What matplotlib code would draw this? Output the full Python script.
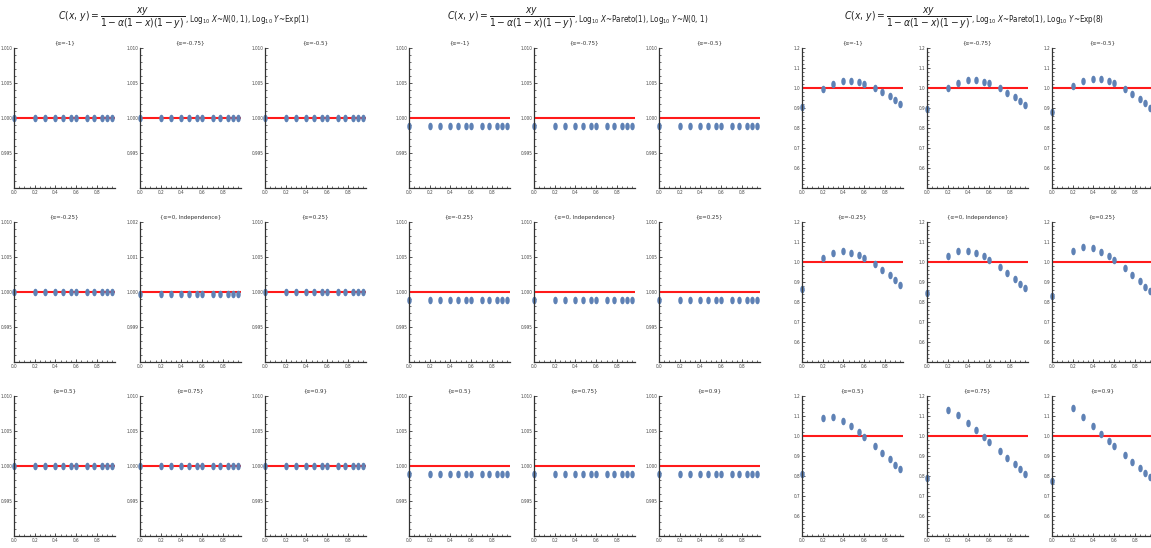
import matplotlib
matplotlib.use('Agg')
import matplotlib.pyplot as plt
from matplotlib import font_manager
from matplotlib.path import Path
from matplotlib.transforms import Affine2D
from matplotlib.ticker import MultipleLocator, FixedLocator, FormatStrFormatter

ttf = font_manager.fontManager.ttflist
names = {f.name for f in ttf}
has_cond = any(f.name == 'DejaVu Sans' and 'Condensed' in f.fname for f in ttf)
if 'Liberation Sans Narrow' in names:
    base, pat = 'Liberation Sans Narrow', 'Liberation Sans Narrow'
    stretch = 'normal'
elif has_cond:
    base, pat = 'DejaVu Sans', 'DejaVu Sans:stretch=condensed'
    stretch = 'condensed'
else:
    base, pat = 'DejaVu Sans', 'DejaVu Sans'
    stretch = 'normal'
plt.rcParams['font.family'] = [base, 'DejaVu Sans']
plt.rcParams['font.stretch'] = stretch
plt.rcParams['mathtext.fontset'] = 'custom'
plt.rcParams['mathtext.rm'] = pat
plt.rcParams['mathtext.it'] = pat + ':italic'
plt.rcParams['mathtext.bf'] = pat + ':bold'
plt.rcParams['mathtext.sf'] = pat

# ---------------- data ----------------
x_levels = [0.0, 0.2, 0.3, 0.4, 0.475, 0.55, 0.6, 0.7, 0.775, 0.85, 0.9, 0.95]

panel_titles = ['{α=-1}', '{α=-0.75}', '{α=-0.5}',
                '{α=-0.25}', '{α=0, Independence}', '{α=0.25}',
                '{α=0.5}', '{α=0.75}', '{α=0.9}']

formula = r'$C(x,\, y) = \dfrac{xy}{1 - \alpha(1 - x)(1 - y)}$'
group_subtitles = [
    r', Log$_{10}$ $X$~$N$(0, 1), Log$_{10}$ $Y$~Exp(1)',
    r', Log$_{10}$ $X$~Pareto(1), Log$_{10}$ $Y$~$N$(0, 1)',
    r', Log$_{10}$ $X$~Pareto(1), Log$_{10}$ $Y$~Exp(8)',
]

# group 1: Log10 X ~ N(0,1), Log10 Y ~ Exp(1)
g1_vals = [
    [1.0, 1.0, 1.0, 1.0, 1.0, 1.0, 1.0, 1.0, 1.0, 1.0, 1.0, 1.0],
    [1.0, 1.0, 1.0, 1.0, 1.0, 1.0, 1.0, 1.0, 1.0, 1.0, 1.0, 1.0],
    [1.0, 1.0, 1.0, 1.0, 1.0, 1.0, 1.0, 1.0, 1.0, 1.0, 1.0, 1.0],
    [1.0, 1.0, 1.0, 1.0, 1.0, 1.0, 1.0, 1.0, 1.0, 1.0, 1.0, 1.0],
    [0.99994, 0.99994, 0.99994, 0.99994, 0.99994, 0.99994, 0.99994, 0.99994, 0.99994, 0.99994, 0.99994, 0.99994],
    [1.0, 1.0, 1.0, 1.0, 1.0, 1.0, 1.0, 1.0, 1.0, 1.0, 1.0, 1.0],
    [1.0, 1.0, 1.0, 1.0, 1.0, 1.0, 1.0, 1.0, 1.0, 1.0, 1.0, 1.0],
    [1.0, 1.0, 1.0, 1.0, 1.0, 1.0, 1.0, 1.0, 1.0, 1.0, 1.0, 1.0],
    [1.0, 1.0, 1.0, 1.0, 1.0, 1.0, 1.0, 1.0, 1.0, 1.0, 1.0, 1.0],
]

# group 2: Log10 X ~ Pareto(1), Log10 Y ~ N(0,1)
g2_vals = [
    [0.9989, 0.9989, 0.9989, 0.9989, 0.9989, 0.9989, 0.9989, 0.9989, 0.9989, 0.9989, 0.9989, 0.9989],
    [0.9989, 0.9989, 0.9989, 0.9989, 0.9989, 0.9989, 0.9989, 0.9989, 0.9989, 0.9989, 0.9989, 0.9989],
    [0.9989, 0.9989, 0.9989, 0.9989, 0.9989, 0.9989, 0.9989, 0.9989, 0.9989, 0.9989, 0.9989, 0.9989],
    [0.9989, 0.9989, 0.9989, 0.9989, 0.9989, 0.9989, 0.9989, 0.9989, 0.9989, 0.9989, 0.9989, 0.9989],
    [0.9989, 0.9989, 0.9989, 0.9989, 0.9989, 0.9989, 0.9989, 0.9989, 0.9989, 0.9989, 0.9989, 0.9989],
    [0.9989, 0.9989, 0.9989, 0.9989, 0.9989, 0.9989, 0.9989, 0.9989, 0.9989, 0.9989, 0.9989, 0.9989],
    [0.9989, 0.9989, 0.9989, 0.9989, 0.9989, 0.9989, 0.9989, 0.9989, 0.9989, 0.9989, 0.9989, 0.9989],
    [0.9989, 0.9989, 0.9989, 0.9989, 0.9989, 0.9989, 0.9989, 0.9989, 0.9989, 0.9989, 0.9989, 0.9989],
    [0.9989, 0.9989, 0.9989, 0.9989, 0.9989, 0.9989, 0.9989, 0.9989, 0.9989, 0.9989, 0.9989, 0.9989],
]

# group 3: Log10 X ~ Pareto(1), Log10 Y ~ Exp(8)
g3_vals = [
    [0.905, 0.997, 1.022, 1.033, 1.033, 1.030, 1.022, 1.002, 0.982, 0.960, 0.942, 0.922],
    [0.893, 1.000, 1.027, 1.038, 1.038, 1.032, 1.023, 1.000, 0.977, 0.955, 0.933, 0.913],
    [0.882, 1.008, 1.037, 1.047, 1.043, 1.033, 1.025, 0.997, 0.972, 0.947, 0.923, 0.900],
    [0.867, 1.018, 1.047, 1.053, 1.047, 1.033, 1.022, 0.988, 0.962, 0.933, 0.910, 0.887],
    [0.845, 1.028, 1.055, 1.057, 1.045, 1.028, 1.012, 0.977, 0.945, 0.917, 0.892, 0.868],
    [0.832, 1.057, 1.077, 1.068, 1.052, 1.028, 1.010, 0.968, 0.933, 0.903, 0.877, 0.853],
    [0.810, 1.090, 1.095, 1.075, 1.048, 1.020, 0.995, 0.952, 0.915, 0.883, 0.857, 0.833],
    [0.788, 1.130, 1.105, 1.066, 1.030, 0.995, 0.972, 0.927, 0.888, 0.858, 0.834, 0.810],
    [0.776, 1.140, 1.095, 1.048, 1.012, 0.977, 0.952, 0.907, 0.870, 0.842, 0.817, 0.795],
]

ref_level = 1.0

# ---------------- layout ----------------
W, H = 1151, 548
fig = plt.figure(figsize=(W / 100, H / 100), dpi=100)
renderer = fig.canvas.get_renderer()

group_lefts = [[14, 140, 265], [409, 534, 659], [802, 927, 1052]]
group_centers = [184, 578, 974]
row_tops = [48, 222, 396]
ax_w, ax_h = 101, 140
title_y = 18

blue = '#5E81B5'
ell = Path.unit_circle().transformed(Affine2D().scale(0.5, 1.0))

group_vals = [g1_vals, g2_vals, g3_vals]

for g in range(3):
    t1 = fig.text(0, 1 - title_y / H, formula, ha='left', va='center',
                  fontsize=7.4, color='#222222')
    t2 = fig.text(0, 1 - (title_y + 1) / H, group_subtitles[g], ha='left', va='center',
                  fontsize=5.8, color='#222222')
    w1 = t1.get_window_extent(renderer).width
    w2 = t2.get_window_extent(renderer).width
    x0 = group_centers[g] - (w1 + w2) / 2
    t1.set_x(x0 / W)
    t2.set_x((x0 + w1) / W)
    for k in range(9):
        r, c = divmod(k, 3)
        left = group_lefts[g][c]
        top = row_tops[r]
        ax = fig.add_axes([left / W, 1 - (top + ax_h) / H, ax_w / W, ax_h / H])
        ax.set_xlim(0, 0.975)
        if g == 2:
            ax.set_ylim(0.5, 1.2)
            ax.yaxis.set_major_locator(FixedLocator([0.6, 0.7, 0.8, 0.9, 1.0, 1.1, 1.2]))
            ax.yaxis.set_major_formatter(FormatStrFormatter('%.1f'))
            ax.yaxis.set_minor_locator(MultipleLocator(0.02))
        elif g == 0 and k == 4:
            ax.set_ylim(0.998, 1.002)
            ax.yaxis.set_major_locator(FixedLocator([0.999, 1.000, 1.001, 1.002]))
            ax.yaxis.set_major_formatter(FormatStrFormatter('%.3f'))
            ax.yaxis.set_minor_locator(MultipleLocator(0.0002))
        else:
            ax.set_ylim(0.990, 1.010)
            ax.yaxis.set_major_locator(FixedLocator([0.995, 1.000, 1.005, 1.010]))
            ax.yaxis.set_major_formatter(FormatStrFormatter('%.3f'))
            ax.yaxis.set_minor_locator(MultipleLocator(0.001))
        ax.xaxis.set_major_locator(FixedLocator([0.0, 0.2, 0.4, 0.6, 0.8]))
        ax.xaxis.set_major_formatter(FormatStrFormatter('%.1f'))
        ax.xaxis.set_minor_locator(MultipleLocator(0.05))

        ax.axhline(ref_level, color='#FF1A1A', lw=1.5, zorder=2)
        ax.plot(x_levels, group_vals[g][k], ls='none', marker=ell, markersize=4.4,
                color=blue, mec=blue, zorder=3, clip_on=False)

        for s in ('top', 'right'):
            ax.spines[s].set_visible(False)
        for s in ('left', 'bottom'):
            ax.spines[s].set_color('#333333')
            ax.spines[s].set_linewidth(0.9)
            ax.spines[s].set_zorder(4)
        ax.tick_params(which='major', direction='in', length=2.5, width=0.6,
                       labelsize=3.3, pad=1.2, colors='#333333', labelcolor='#444444')
        ax.tick_params(which='minor', direction='in', length=1.3, width=0.5, colors='#333333')
        ax.set_title(panel_titles[k], fontsize=4.4, pad=2.5, color='#333333')

fig.savefig('out.png', dpi=100)
